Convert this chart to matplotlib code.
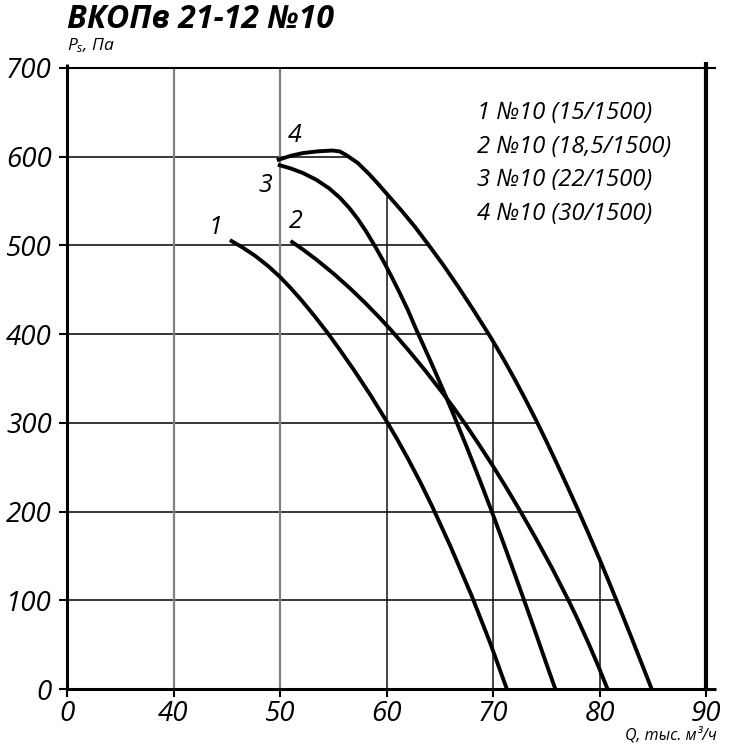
import numpy as np
import matplotlib
matplotlib.use("Agg")
import matplotlib.pyplot as plt
from matplotlib.patches import Polygon

plt.rcParams['font.family'] = ['Open Sans', 'DejaVu Sans']
plt.rcParams['font.style'] = 'italic'
plt.rcParams['mathtext.fontset'] = 'custom'
plt.rcParams['mathtext.it'] = 'Open Sans:italic'
plt.rcParams['mathtext.rm'] = 'Open Sans:italic'

# ---- data ----
title = "ВКОПв 21-12 №10"
x_ticks = [0, 40, 50, 60, 70, 80, 90]
y_ticks = [0, 100, 200, 300, 400, 500, 600, 700]

q1 = [45.3, 46.5, 47.7, 48.9, 50.0, 51.0, 52.0, 53.2, 54.4, 55.6, 57.0, 58.5, 60.1,
      61.0, 62.0, 63.2, 64.3, 66.0, 68.0, 69.7, 71.3]
p1 = [506, 497.6, 488, 476.6, 464.5, 452, 438.5, 421, 402.5, 382.7, 358.5, 331.2, 300,
      281.6, 260, 232.5, 205.5, 161, 105, 53, 0]

q2 = [51.0, 52.2, 53.4, 55.0, 56.5, 58.0, 59.3, 60.4, 62.0, 63.6, 65.3, 66.4, 67.4,
      68.7, 70.0, 71.3, 72.6, 74.0, 75.5, 77.1, 78.0, 79.0, 79.9, 80.75]
p2 = [505, 495, 484.2, 468.5, 452.5, 435.2, 419.2, 404.9, 382.8, 359.5, 333.3, 315.5, 298.5,
      275.3, 251.2, 226, 199.7, 170.3, 137.3, 99.7, 77.2, 50.7, 25.5, 0]

q3 = [49.8, 51.0, 52.1, 53.4, 54.6, 55.6, 56.5, 57.3, 58.1, 59.0, 59.8, 60.5, 61.2,
      62.0, 62.8, 64.0, 65.3, 66.4, 67.6, 68.8, 70.0, 71.0, 72.0, 72.9, 74.0, 75.0, 75.85]
p3 = [591, 586.8, 581.9, 574.1, 564.5, 554, 542.3, 529.9, 515.5, 497.5, 480.3, 464.2, 447.4,
      427.4, 405, 373.2, 337.5, 306.2, 270.8, 234.2, 196.4, 163.9, 130.9, 100.8, 63.4, 28.9, 0]

q4 = [49.7, 51.0, 52.1, 53.5, 54.9, 55.6, 56.2, 57.3, 58.4, 59.2, 60.0, 61.5, 62.7,
      63.8, 65.3, 66.7, 68.1, 69.5, 70.0, 71.0, 72.0, 73.0, 74.0, 75.0, 76.0, 77.0,
      78.0, 79.0, 80.0, 81.0, 82.0, 83.0, 84.0, 84.9]
p4 = [596, 601, 604, 606, 607, 606, 602, 593, 580, 569.5, 558.5, 538, 520.5,
      503, 478.5, 454, 428.4, 401.8, 392, 371.5, 350, 327.5, 304, 279.5, 254, 228,
      201.5, 174.3, 146.5, 117.5, 88, 58, 27.5, 0]

curve_labels = ["1", "2", "3", "4"]
label_q = [43.9, 51.5, 48.6, 51.4]
label_p = [520, 527, 568, 624]

legend_lines = ["1 №10 (15/1500)", "2 №10 (18,5/1500)", "3 №10 (22/1500)", "4 №10 (30/1500)"]

# ---- figure ----
W, H = 729, 747
fig = plt.figure(figsize=(W / 100, H / 100), dpi=100)
ax = fig.add_axes([67 / W, 58 / H, (706 - 67) / W, (689 - 68) / H])


def fwd(x):
    x = np.asarray(x, dtype=float)
    return np.where(x < 40, x / 4.0, x - 30.0)


def inv(p):
    p = np.asarray(p, dtype=float)
    return np.where(p < 10, p * 4.0, p + 30.0)


ax.set_xscale('function', functions=(fwd, inv))
ax.set_xlim(0, 90)
ax.set_ylim(0, 700)

# clip region for grid: full height left of Q=50, under curve 4 to the right
clip_verts = [(0, 0), (0, 700), (50.3, 700), (50.3, 598)]
clip_verts += [(q, p) for q, p in zip(q4, p4) if q > 50.3]
clip_verts += [(q4[-1], 0)]
clip_poly = Polygon(clip_verts, closed=True, transform=ax.transData,
                    facecolor='none', edgecolor='none')
ax.add_patch(clip_poly)

for yv in y_ticks[1:-1]:
    ln, = ax.plot([0, 90], [yv, yv], color='black', lw=1.1, zorder=1)
    ln.set_clip_path(clip_poly)
for xv in x_ticks[1:-1]:
    col = '#808080' if xv in (40, 50) else '#111111'
    lw = 1.6 if xv in (40, 50) else 1.1
    ln, = ax.plot([xv, xv], [0, 700], color=col, lw=lw, zorder=1)
    ln.set_clip_path(clip_poly)

for q, p in [(q1, p1), (q2, p2), (q3, p3), (q4, p4)]:
    ax.plot(q, p, color='black', lw=2.8, solid_capstyle='butt',
            solid_joinstyle='round', zorder=3)

for t, q, p in zip(curve_labels, label_q, label_p):
    ax.text(q, p, t, fontsize=18, style='italic', ha='center', va='center')

for i, t in enumerate(legend_lines):
    fig.text(477 / W, 1 - (113 + i * 33.7) / H, t, fontsize=17.2, style='italic',
             ha='left', va='center')

ax.set_xticks(x_ticks)
ax.set_xticklabels([str(v) for v in x_ticks], fontstyle='italic')
ax.set_yticks(y_ticks)
ax.set_yticklabels([str(v) for v in y_ticks], fontstyle='italic')
ax.tick_params(axis='both', direction='out', length=6, width=1.5, labelsize=20)
ax.tick_params(axis='x', pad=2)
ax.tick_params(axis='y', pad=5)

ax.spines['left'].set_linewidth(2.2)
ax.spines['bottom'].set_linewidth(2.2)
ax.spines['top'].set_linewidth(1.5)
ax.spines['right'].set_linewidth(3.0)

# small frame overshoots at the corners
ax_w, ax_h = 706 - 67, 689 - 68
ax.plot([0, 0], [1, 1 + 4 / ax_h], transform=ax.transAxes, clip_on=False,
        color='black', lw=2.2, solid_capstyle='butt')
ax.plot([1, 1], [1, 1 + 6 / ax_h], transform=ax.transAxes, clip_on=False,
        color='black', lw=3.0, solid_capstyle='butt')
ax.plot([1, 1 + 10 / ax_w], [1, 1], transform=ax.transAxes, clip_on=False,
        color='black', lw=1.5, solid_capstyle='butt')
ax.plot([1, 1 + 10 / ax_w], [0, 0], transform=ax.transAxes, clip_on=False,
        color='black', lw=2.2, solid_capstyle='butt')

fig.text(67 / W, 1 - 20 / H, title, fontsize=23, weight='bold', style='italic',
         ha='left', va='center')
fig.text(67 / W, 1 - 46 / H, r'$P_s$, Па', fontsize=12.5, style='italic',
         ha='left', va='center')
fig.text(717 / W, 1 - 735 / H, 'Q, тыс. м³/ч', fontsize=11.5, style='italic',
         ha='right', va='center')

fig.savefig('out.png', dpi=100)
